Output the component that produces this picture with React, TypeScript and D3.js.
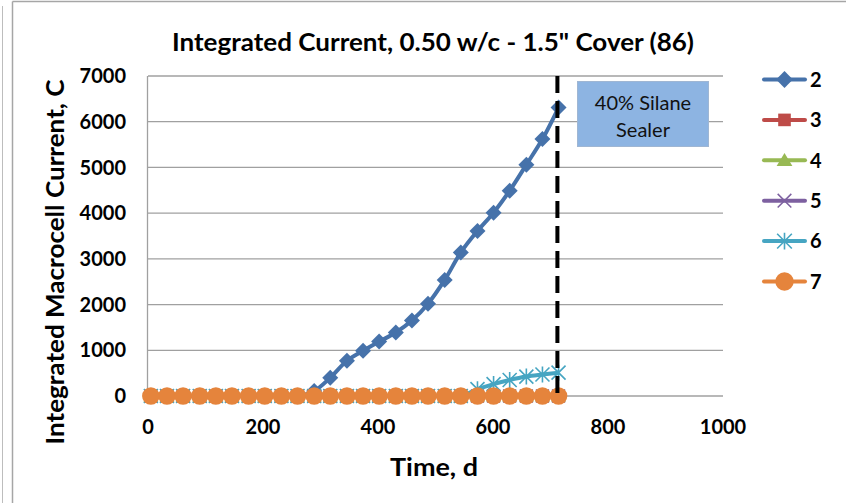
import React from "react";
import * as d3 from "d3";

const days = [5, 33, 61, 90, 118, 146, 175, 203, 232, 260, 289, 317, 346, 374, 402, 431, 459, 487, 516, 544, 573, 601, 629, 658, 686, 714];
const s2 = [0, 0, 0, 0, 0, 0, 0, 0, 0, 0, 110, 400, 770, 990, 1190, 1390, 1650, 2020, 2540, 3140, 3610, 4010, 4490, 5060, 5620, 6310];
const s3 = [0, 0, 0, 0, 0, 0, 0, 0, 0, 0, 0, 0, 0, 0, 0, 0, 0, 0, 0, 0, 0, 0, 0, 0, 0, 0];
const s4 = [0, 0, 0, 0, 0, 0, 0, 0, 0, 0, 0, 0, 0, 0, 0, 0, 0, 0, 0, 0, 0, 0, 0, 0, 0, 0];
const s5 = [0, 0, 0, 0, 0, 0, 0, 0, 0, 0, 0, 0, 0, 0, 0, 0, 0, 0, 0, 0, 0, 0, 0, 0, 0, 0];
const s6 = [0, 0, 0, 0, 0, 0, 0, 0, 0, 0, 0, 0, 0, 0, 0, 0, 0, 0, 0, 0, 150, 260, 350, 425, 470, 510];
const s7 = [0, 0, 0, 0, 0, 0, 0, 0, 0, 0, 0, 0, 0, 0, 0, 0, 0, 0, 0, 0, 0, 0, 0, 0, 0, 0];
const seriesNames = ["2", "3", "4", "5", "6", "7"];
const seriesColors = ["#4672AA", "#BE4B48", "#98B954", "#7D60A0", "#46A5C2", "#E5843C"];
const seriesMarkers = ["diamond", "square", "triangle", "x", "star", "circle"];
const xTicks = [0, 200, 400, 600, 800, 1000];
const yTicks = [0, 1000, 2000, 3000, 4000, 5000, 6000, 7000];
const sealerDay = 712;
const titleText = 'Integrated Current, 0.50 w/c - 1.5" Cover (86)';
const xTitle = "Time, d";
const yTitle = "Integrated Macrocell Current, C";
const noteLines = ["40% Silane", "Sealer"];

const W = 846, H = 503;
const x = d3.scaleLinear().domain([0, 1000]).range([148, 723]);
const y = d3.scaleLinear().domain([0, 7000]).range([396, 76]);
const FONT = "Lato, 'Open Sans', sans-serif";

function Marker({ kind, cx, cy, color, s = 1 }: { kind: string; cx: number; cy: number; color: string; s?: number }) {
  switch (kind) {
    case "diamond":
      return <path d={`M${cx},${cy - 8 * s}L${cx + 8 * s},${cy}L${cx},${cy + 8 * s}L${cx - 8 * s},${cy}Z`} fill={color} />;
    case "square":
      return <rect x={cx - 6 * s} y={cy - 6 * s} width={12 * s} height={12 * s} fill={color} />;
    case "triangle":
      return <path d={`M${cx},${cy - 7 * s}L${cx + 7.5 * s},${cy + 5.5 * s}L${cx - 7.5 * s},${cy + 5.5 * s}Z`} fill={color} />;
    case "x":
      return (
        <path
          d={`M${cx - 6.5 * s},${cy - 6.5 * s}L${cx + 6.5 * s},${cy + 6.5 * s}M${cx - 6.5 * s},${cy + 6.5 * s}L${cx + 6.5 * s},${cy - 6.5 * s}`}
          stroke={color}
          strokeWidth={1.5}
        />
      );
    case "star":
      return (
        <path
          d={`M${cx - 7 * s},${cy - 7 * s}L${cx + 7 * s},${cy + 7 * s}M${cx - 7 * s},${cy + 7 * s}L${cx + 7 * s},${cy - 7 * s}M${cx},${cy - 8 * s}L${cx},${cy + 8 * s}`}
          stroke={color}
          strokeWidth={1.6}
        />
      );
    default:
      return <circle cx={cx} cy={cy} r={8.8 * s} fill={color} />;
  }
}

export default function App() {
  const allSeries = [s2, s3, s4, s5, s6, s7];
  const line = d3
    .line<[number, number]>()
    .x((d) => x(d[0]))
    .y((d) => y(d[1]))
    .curve(d3.curveCatmullRom.alpha(0.5));

  return (
    <svg width={W} height={H} style={{ position: "absolute", left: 0, top: 0, background: "#fff" }} fontFamily={FONT}>
      <rect x={0} y={0} width={W} height={H} fill="#fff" />
      {/* frame */}
      <line x1={2.5} x2={2.5} y1={6} y2={H} stroke="#BDBDBD" strokeWidth={1} />
      <line x1={12.5} x2={12.5} y1={1.5} y2={H} stroke="#A6A6A6" strokeWidth={1.5} />
      <line x1={12.5} x2={W} y1={1.5} y2={1.5} stroke="#A6A6A6" strokeWidth={1.5} />

      {/* gridlines */}
      {yTicks.map((t) => (
        <line key={t} x1={x(0)} x2={x(1000)} y1={y(t)} y2={y(t)} stroke="#A0A0A0" strokeWidth={1.3} />
      ))}
      <line x1={x(0) - 0.5} x2={x(0) - 0.5} y1={y(7000)} y2={y(0)} stroke="#A0A0A0" strokeWidth={1.3} />

      {/* y tick labels */}
      {yTicks.map((t) => (
        <text key={t} x={126} y={y(t)} dy="0.36em" textAnchor="end" fontSize={20} fontWeight="bold" fill="#000">
          {t}
        </text>
      ))}
      {/* x tick labels */}
      {xTicks.map((t) => (
        <text key={t} x={x(t)} y={434} textAnchor="middle" fontSize={20} fontWeight="bold" fill="#000">
          {t}
        </text>
      ))}

      {/* series */}
      {allSeries.map((s, i) => {
        const pts = days.map((d, j) => [d, s[j]] as [number, number]);
        return (
          <g key={i}>
            <path d={line(pts) || ""} fill="none" stroke={seriesColors[i]} strokeWidth={4} strokeLinejoin="round" />
            {pts.map((p, j) => (
              <Marker key={j} kind={seriesMarkers[i]} cx={x(p[0])} cy={y(p[1])} color={seriesColors[i]} />
            ))}
          </g>
        );
      })}

      {/* sealer line */}
      <line
        x1={x(sealerDay)}
        x2={x(sealerDay)}
        y1={y(7000)}
        y2={y(0) + 2}
        stroke="#000"
        strokeWidth={4}
        strokeDasharray="17 8"
      />

      {/* note box */}
      <rect x={577.5} y={81.5} width={131} height={65} fill="#8DB4E2" stroke="#9FB6D3" strokeWidth={1} />
      {noteLines.map((t, i) => (
        <text key={t} x={643} y={103 + i * 27} dy="0.35em" textAnchor="middle" fontSize={20} fill="#111">
          {t}
        </text>
      ))}

      {/* title */}
      <text x={433} y={51} textAnchor="middle" fontSize={25} fontWeight="bold" fill="#000" textLength={522} lengthAdjust="spacingAndGlyphs">
        {titleText}
      </text>
      {/* axis titles */}
      <text x={434} y={476} textAnchor="middle" fontSize={24} fontWeight="bold" fill="#000" textLength={88} lengthAdjust="spacingAndGlyphs">
        {xTitle}
      </text>
      <text
        transform={`translate(56,${262}) rotate(-90)`}
        textAnchor="middle"
        dy="0.35em"
        fontSize={24}
        fontWeight="bold"
        fill="#000"
        textLength={365}
        lengthAdjust="spacingAndGlyphs"
      >
        {yTitle}
      </text>

      {/* legend */}
      {seriesNames.map((n, i) => {
        const ly = 79.5 + 40.4 * i;
        return (
          <g key={n}>
            <line x1={764} x2={805} y1={ly} y2={ly} stroke={seriesColors[i]} strokeWidth={4} strokeLinecap="round" />
            <Marker kind={seriesMarkers[i]} cx={784.5} cy={ly} color={seriesColors[i]} s={1.05} />
            <text x={810} y={ly} dy="0.36em" fontSize={20} fontWeight="bold" fill="#000">
              {n}
            </text>
          </g>
        );
      })}
    </svg>
  );
}
